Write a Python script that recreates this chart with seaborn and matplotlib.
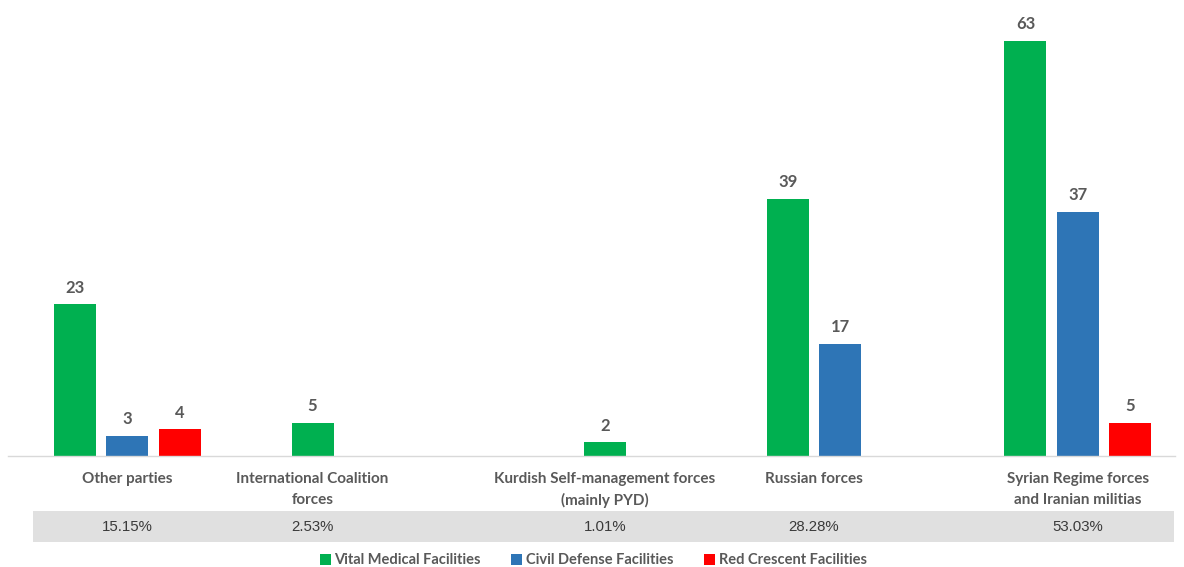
import numpy as np
import pandas as pd
import matplotlib
matplotlib.use("Agg")
import matplotlib.pyplot as plt
from matplotlib.patches import Rectangle, Patch
from matplotlib.transforms import blended_transform_factory
import seaborn as sns

# --- data -------------------------------------------------------------
categories = [
    "Other parties",
    "International Coalition\nforces",
    "Kurdish Self-management forces\n(mainly PYD)",
    "Russian forces",
    "Syrian Regime forces\nand Iranian militias",
]
series_names = ["Vital Medical Facilities", "Civil Defense Facilities", "Red Crescent Facilities"]
vital_medical = [23, 5, 2, 39, 63]
civil_defense = [3, 0, 0, 17, 37]
red_crescent = [4, 0, 0, 0, 5]
share_labels = ["15.15%", "2.53%", "1.01%", "28.28%", "53.03%"]

# --- layout / style -----------------------------------------------------
colors = {"Vital Medical Facilities": "#00B050",
          "Civil Defense Facilities": "#2E75B6",
          "Red Crescent Facilities": "#FF0000"}
group_centers = [2.276, 5.80, 11.37, 15.35, 20.38]   # x position of each category (bar-slot units)
text_grey = "#595959"
FONT = ["Lato", "DejaVu Sans"]

sns.set_theme(style="white")
plt.rcParams["font.family"] = FONT

# one row per drawn bar; zero counts are left out and the remaining bars are centred
rows = []
for i, cat in enumerate(categories):
    vals = [vital_medical[i], civil_defense[i], red_crescent[i]]
    present = [(s, v) for s, v in zip(series_names, vals) if v > 0]
    k = len(present)
    for j, (s, v) in enumerate(present):
        rows.append({"category": cat, "series": s, "value": v,
                     "pos": group_centers[i] + (j - (k - 1) / 2)})
df = pd.DataFrame(rows)

fig = plt.figure(figsize=(11.84, 5.67), dpi=100)
W, H = 1184, 567
ax_left, ax_right = 8, 1175
ax_bottom_px, px_per_unit, ymax = 455.5, 6.587, 66
ax = fig.add_axes([ax_left / W, (H - ax_bottom_px) / H,
                   (ax_right - ax_left) / W, ymax * px_per_unit / H])

sns.barplot(data=df, x="pos", y="value", hue="series", hue_order=series_names,
            palette=colors, native_scale=True, dodge=False, width=0.8,
            legend=False, ax=ax, linewidth=0, saturation=1)

for cont in ax.containers:
    ax.bar_label(cont, fmt="%d", padding=6, fontsize=12, fontweight="bold",
                 color=text_grey, family=FONT)

ax.set_xlim(0, (ax_right - ax_left) / 52.5)
ax.set_ylim(0, ymax)
ax.set_xlabel("")
ax.set_ylabel("")
ax.set_yticks([])
ax.set_xticks(group_centers)
ax.set_xticklabels(categories, fontsize=11, fontweight="bold", color=text_grey,
                   linespacing=1.6)
ax.tick_params(axis="x", length=0, pad=12)
for side in ["left", "right", "top"]:
    ax.spines[side].set_visible(False)
ax.spines["bottom"].set_color("#D9D9D9")
ax.spines["bottom"].set_linewidth(1.0)

# shaded row with each category's share of the total
band = Rectangle((33 / W, (H - 542) / H), (1174 - 33) / W, 31 / H,
                 transform=fig.transFigure, facecolor="#E0E0E0",
                 edgecolor="none", zorder=1, clip_on=False)
ax.add_artist(band)
trans = blended_transform_factory(ax.transData, fig.transFigure)
for c, lab in zip(group_centers, share_labels):
    ax.text(c, (H - 527) / H, lab, transform=trans, ha="center", va="center",
            fontsize=10.8, color="#3A3A3A", family=["Liberation Sans", "DejaVu Sans"],
            clip_on=False, zorder=5)

handles = [Patch(facecolor=colors[s], edgecolor="none", label=s) for s in series_names]
leg = fig.legend(handles=handles, loc="center", bbox_to_anchor=(0.501, (H - 560.5) / H),
                 ncol=3, frameon=False, handlelength=0.75, handleheight=0.75,
                 handletextpad=0.25, columnspacing=2.1, borderaxespad=0,
                 borderpad=0.1,
                 prop={"family": FONT, "weight": "bold", "size": 10.5})
for t in leg.get_texts():
    t.set_color(text_grey)

fig.savefig("out.png", dpi=100)
